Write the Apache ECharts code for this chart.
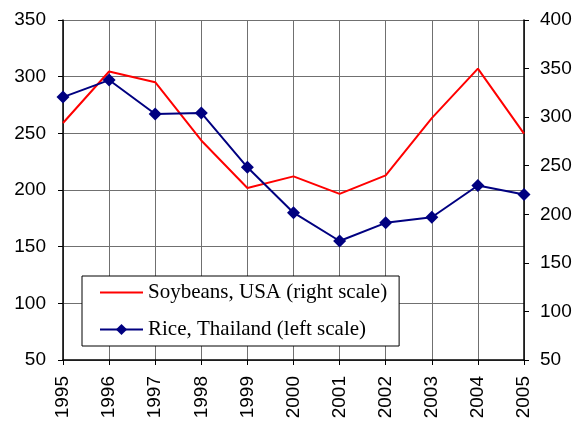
<!DOCTYPE html>
<html>
<head>
<meta charset="utf-8">
<script src="https://cdn.jsdelivr.net/npm/echarts@6/dist/echarts.min.js"></script>
<style>
html, body { margin: 0; padding: 0; background: #fff; }
#container { width: 575px; height: 425px; }
</style>
</head>
<body>
<div id="container"></div>
<script>
var years = ['1995', '1996', '1997', '1998', '1999', '2000', '2001', '2002', '2003', '2004', '2005'];
// right scale
var soybeans = [294, 347, 336, 276, 227, 239, 221, 240, 299, 350, 283];
// left scale
var rice = [282, 297, 267, 268, 220, 180, 155, 171, 176, 204, 196];

var dom = document.getElementById("container");
var myChart = echarts.init(dom);

var axisFont = { fontFamily: 'Liberation Sans', fontSize: 19, color: '#000' };

var option = {
    animation: false,
    grid: { left: 63, right: 51, top: 20, bottom: 65 },
    legend: {
        orient: 'vertical',
        left: 82,
        top: 276,
        padding: [6, 12, 6, 17],
        itemGap: 16,
        itemWidth: 43,
        itemHeight: 14,
        backgroundColor: '#fff',
        borderColor: '#000',
        borderWidth: 1,
        textStyle: { fontFamily: 'Liberation Serif', fontSize: 21, color: '#000' },
        data: [
            { name: 'Soybeans, USA (right scale)', itemStyle: { opacity: 0 } },
            { name: 'Rice, Thailand (left scale)' }
        ]
    },
    xAxis: {
        type: 'category',
        boundaryGap: false,
        data: years,
        axisLine: { lineStyle: { color: '#000', width: 1.5 } },
        axisTick: { alignWithLabel: true, length: 5, lineStyle: { color: '#000' } },
        axisLabel: Object.assign({ rotate: 90, margin: 16 }, axisFont),
        splitLine: { show: true, lineStyle: { color: '#707070', width: 1 } }
    },
    yAxis: [{
        type: 'value',
        min: 50,
        max: 350,
        interval: 50,
        axisLine: { show: true, lineStyle: { color: '#000', width: 1.5 } },
        axisTick: { show: true, length: 5, lineStyle: { color: '#000' } },
        axisLabel: Object.assign({ margin: 17 }, axisFont),
        splitLine: { show: true, lineStyle: { color: '#707070', width: 1 } }
    }, {
        type: 'value',
        min: 50,
        max: 400,
        interval: 50,
        position: 'right',
        axisLine: { show: true, lineStyle: { color: '#000', width: 1.5 } },
        axisTick: { show: true, length: 5, lineStyle: { color: '#000' } },
        axisLabel: Object.assign({ margin: 16 }, axisFont),
        splitLine: { show: false }
    }],
    series: [{
        name: 'Soybeans, USA (right scale)',
        type: 'line',
        yAxisIndex: 1,
        symbol: 'none',
        itemStyle: { color: '#ff0000' },
        lineStyle: { color: '#ff0000', width: 2 },
        data: soybeans
    }, {
        name: 'Rice, Thailand (left scale)',
        type: 'line',
        yAxisIndex: 0,
        symbol: 'diamond',
        symbolSize: 13,
        itemStyle: { color: '#000080' },
        lineStyle: { color: '#000080', width: 2 },
        data: rice
    }]
};

myChart.setOption(option);
</script>
</body>
</html>
